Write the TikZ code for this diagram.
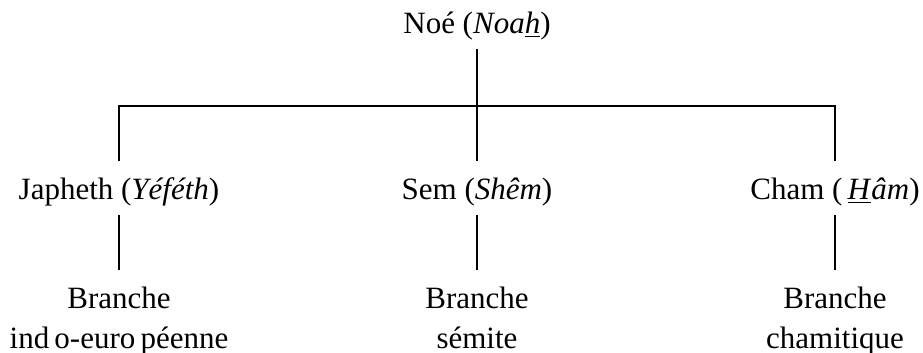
\documentclass[tikz,border=0pt]{standalone}
\usepackage{fontspec}
\setmainfont{Liberation Serif}
\usetikzlibrary{trees}

\tikzset{
  person/.style={inner sep=0pt, text height=19pt, text depth=7pt},
  branch/.style={inner sep=0pt, text height=39pt, align=center, anchor=north},
}

\begin{document}
\begin{tikzpicture}
  [font=\fontsize{15.5}{20}\selectfont, line width=1pt,
   level 1/.style={level distance=83pt, sibling distance=179pt,
     edge from parent path={(\tikzparentnode.south) -- +(0,-28.5pt)
       -| (\tikzchildnode.north)}},
   level 2/.style={level distance=41pt,
     edge from parent path={(\tikzparentnode.south) -- (\tikzchildnode.north)}}]
  \useasboundingbox (-238.5pt,11pt) rectangle (223pt,-165.5pt);
  \node[person] (noe) {Noé (\textit{Noa\underline{h}})}
    child {node[person] (japheth) {Japheth~(\textit{Yéféth})}
      child {node[branch] (indo) {Branche\\ind\,o-euro\,péenne}}}
    child {node[person] (sem) {Sem (\textit{Shêm})}
      child {node[branch] (semite) {Branche\\sémite}}}
    child {node[person] (cham) {Cham (\,\underline{\textit{H}}\textit{âm})}
      child {node[branch] (chamite) {Branche\\chamitique}}};
\end{tikzpicture}
\end{document}
